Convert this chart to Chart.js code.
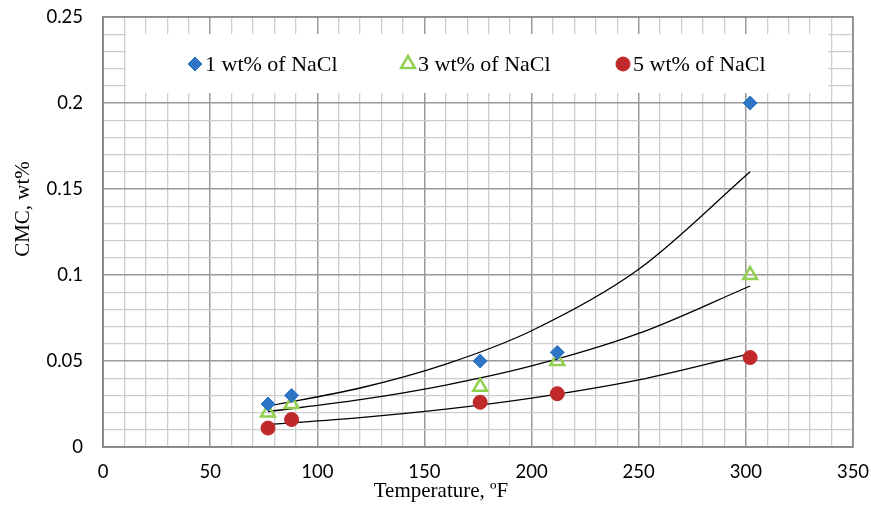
<!DOCTYPE html>
<html><head><meta charset="utf-8">
<script src="https://cdn.jsdelivr.net/npm/chart.js@4.4.1/dist/chart.umd.min.js"></script>
<style>html,body{margin:0;padding:0;background:#fff}#wrap{width:871px;height:506px}</style>
</head><body><div id="wrap"><canvas id="c" width="871" height="506"></canvas></div>
<script>
// Measured points
const temps = [77, 88, 176, 212, 302];
const nacl1 = [0.025, 0.030, 0.050, 0.055, 0.200];
const nacl3 = [0.020, 0.025, 0.035, 0.050, 0.100];
const nacl5 = [0.011, 0.016, 0.026, 0.031, 0.052];
// Trend-line points
const trendX = [77, 120, 160, 200, 250, 302];
const trend1 = [0.0238, 0.0343, 0.0482, 0.0676, 0.1033, 0.160];
const trend3 = [0.0206, 0.0275, 0.0360, 0.0471, 0.0660, 0.0936];
const trend5 = [0.0130, 0.0171, 0.0220, 0.0284, 0.0390, 0.0543];
const seriesLabels = ['1 wt% of NaCl', '3 wt% of NaCl', '5 wt% of NaCl'];
const xTickLabels = ['0', '50', '100', '150', '200', '250', '300', '350'];
const yTickLabels = ['0', '0.05', '0.1', '0.15', '0.2', '0.25'];
const xTitle = 'Temperature, ºF';
const yTitle = 'CMC, wt%';

const pts = (xs, ys) => xs.map((x, i) => ({x, y: ys[i]}));
const trendDs = (ys) => ({type:'line', data: pts(trendX, ys), borderColor:'#000', borderWidth:1.3,
  pointRadius:0, cubicInterpolationMode:'monotone', fill:false, order:2});

const isMajorX = v => Math.round(v) % 50 === 0;
const isMajorY = v => Math.round(v*100) % 5 === 0;
const serif = '"Liberation Serif", "Times New Roman", serif';

const legendBox = {
  id:'legendBox',
  beforeDatasetsDraw(chart){
    const ctx = chart.ctx;
    ctx.save();
    ctx.fillStyle = '#fff';
    ctx.fillRect(126, 34, 828-126, 93-34);
    ctx.restore();
  },
  afterDatasetsDraw(chart){
    const ctx = chart.ctx;
    const items = [
      {x:195, ds:chart.data.datasets[0], label:seriesLabels[0]},
      {x:408, ds:chart.data.datasets[1], label:seriesLabels[1]},
      {x:623, ds:chart.data.datasets[2], label:seriesLabels[2]},
    ];
    const y = 64;
    items.forEach(it => {
      const d = it.ds;
      ctx.save();
      ctx.fillStyle = d.backgroundColor; ctx.strokeStyle = d.borderColor; ctx.lineWidth = d.borderWidth;
      Chart.helpers.drawPoint(ctx, {pointStyle:d.pointStyle, radius:d.pointRadius, borderWidth:d.borderWidth, rotation:0}, it.x, y);
      ctx.fillStyle = '#000';
      ctx.font = '22px ' + serif;
      ctx.textBaseline = 'middle';
      ctx.fillText(it.label, it.x + 10, y + 1);
      ctx.restore();
    });
  }
};

const titles = {
  id:'titles',
  afterDraw(chart){
    const ctx = chart.ctx;
    ctx.save();
    ctx.fillStyle = '#000';
    ctx.font = '21px ' + serif;
    ctx.textAlign = 'center'; ctx.textBaseline = 'middle';
    ctx.fillText(xTitle, 441, 491);
    ctx.translate(23, 209); ctx.rotate(-Math.PI/2);
    ctx.fillText(yTitle, 0, 0);
    ctx.restore();
    const a=chart.chartArea;
    ctx.save();ctx.strokeStyle='#888';ctx.lineWidth=1.5;
    ctx.strokeRect(a.left,a.top,a.right-a.left,a.bottom-a.top);ctx.restore();
  }
};

new Chart(document.getElementById('c'), {
  type:'scatter',
  data:{datasets:[
    {label:seriesLabels[0], data:pts(temps,nacl1), pointStyle:'rectRot', pointRadius:7, pointHoverRadius:7,
     backgroundColor:'#2e75c6', borderColor:'#2e75c6', borderWidth:1, order:1},
    {label:seriesLabels[1], data:pts(temps,nacl3), pointStyle:'triangle', pointRadius:8, pointHoverRadius:8,
     backgroundColor:'rgba(255,255,255,0)', borderColor:'#92d050', borderWidth:2.5, order:1},
    {label:seriesLabels[2], data:pts(temps,nacl5), pointStyle:'circle', pointRadius:7, pointHoverRadius:7,
     backgroundColor:'#c0282a', borderColor:'#c0282a', borderWidth:1, order:1},
    trendDs(trend1), trendDs(trend3), trendDs(trend5)
  ]},
  options:{
    responsive:false, animation:false, devicePixelRatio:1,
    layout:{padding:{left:0, right:18, top:17, bottom:0}},
    plugins:{legend:{display:false}, tooltip:{enabled:false}},
    scales:{
      x:{type:'linear', min:0, max:350,
        afterFit(s){ s.height = 59; },
        border:{display:true, color:'#888', width:1.5},
        grid:{color:c => isMajorX(c.tick.value) ? '#999' : '#cdcdcd', lineWidth:c => isMajorX(c.tick.value)?1.5:1.3,
          drawTicks:true, tickLength:14, tickColor:'rgba(0,0,0,0)'},
        ticks:{stepSize:10, autoSkip:false, maxRotation:0, padding:0, color:'#000',
          font:{family:'Lato, "Open Sans", sans-serif', size:18.5},
          callback:(v)=> isMajorX(v) ? xTickLabels[Math.round(v/50)] : ''}
      },
      y:{type:'linear', min:0, max:0.25,
        afterFit(s){ s.width = 103; },
        border:{display:true, color:'#888', width:1.5},
        grid:{color:c => isMajorY(c.tick.value) ? '#999' : '#cdcdcd', lineWidth:c => isMajorY(c.tick.value)?1.5:1.3,
          drawTicks:true, tickLength:20, tickColor:'rgba(0,0,0,0)'},
        ticks:{stepSize:0.01, autoSkip:false, padding:0, color:'#000',
          font:{family:'Lato, "Open Sans", sans-serif', size:18.5},
          callback:(v)=> isMajorY(v) ? yTickLabels[Math.round(v/0.05)] : ''}
      }
    }
  },
  plugins:[legendBox, titles]
});
</script></body></html>
